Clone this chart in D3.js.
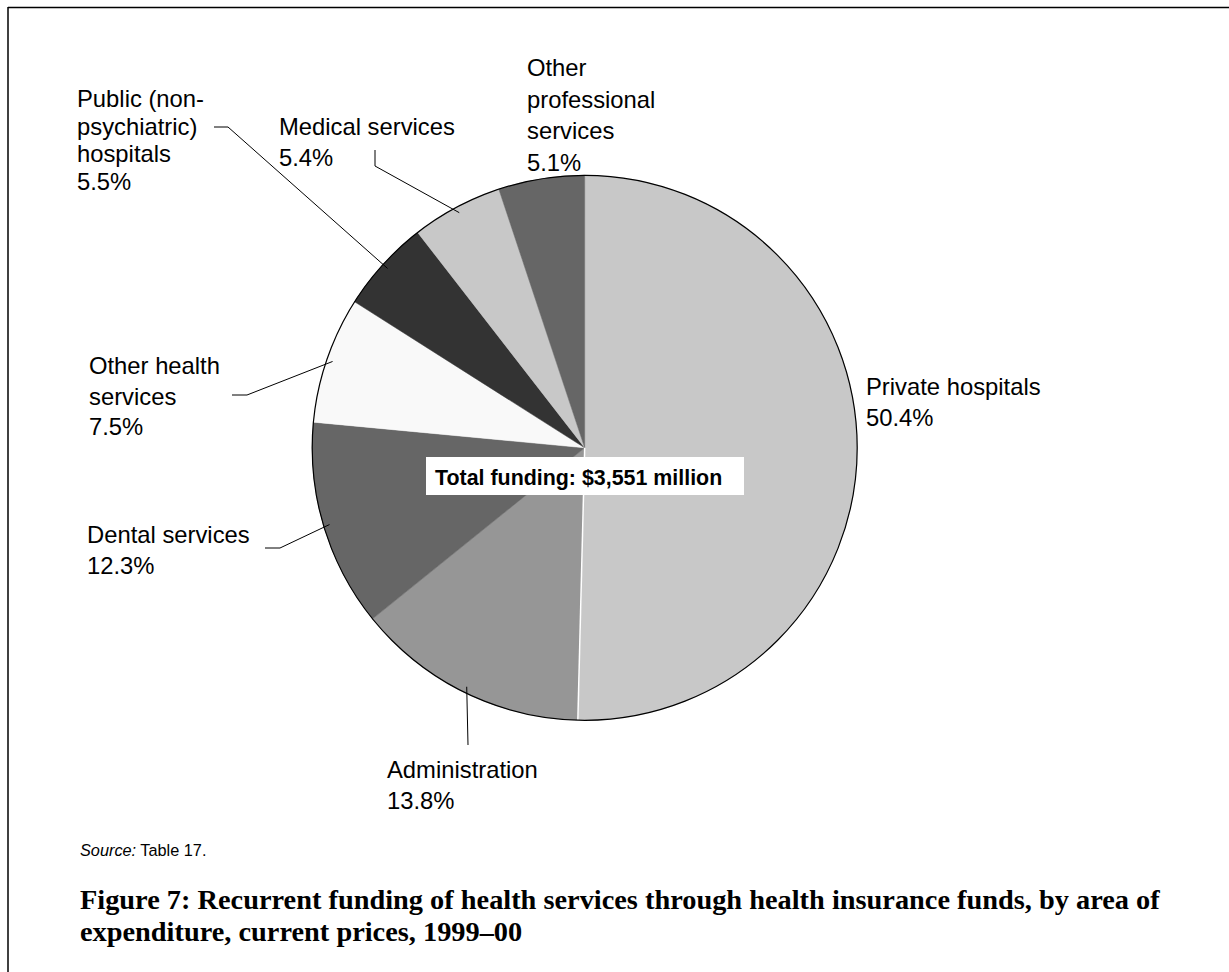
<!DOCTYPE html>
<html><head><meta charset="utf-8">
<script src="https://cdn.jsdelivr.net/npm/d3@7"></script>
<style>body{margin:0;background:#fff}svg{display:block}</style>
</head><body><svg id="c" width="1229" height="972"></svg>
<script>
// ---- data ----
const categories = ["Private hospitals","Administration","Dental services","Other health services","Public (non-psychiatric) hospitals","Medical services","Other professional services"];
const shares = [50.4, 13.8, 12.3, 7.5, 5.5, 5.4, 5.1];
const labelLines = [["Private hospitals"],["Administration"],["Dental services"],["Other health","services"],["Public (non-","psychiatric)","hospitals"],["Medical services"],["Other","professional","services"]];
const totalText = "Total funding: $3,551 million";
const sourceLabel = "Source:";
const sourceText = " Table 17.";
const captionLines = ["Figure 7: Recurrent funding of health services through health insurance funds, by area of","expenditure, current prices, 1999\u201300"];

// ---- layout / style ----
const fills = ["#c8c8c8","#969696","#666666","#f9f9f9","#333333","#c8c8c8","#666666"];
const cx = 584.7, cy = 447.8, R = 272.5;
const labelPos = [{x:866,y:395,h:31},{x:387,y:778,h:31},{x:87,y:543,h:31},{x:89,y:374,h:30.5},{x:77,y:107,h:27.7},{x:279,y:135,h:31},{x:527,y:76,h:31.5}];
const elbows = [null, [[468,745]], [[265,548],[280,548]], [[232,395],[247,395]], [[214,127],[228,127]], [[375,150],[375,166]], null];
const sans = "'Liberation Sans', Arial, sans-serif";

const svg = d3.select("#c");
// frame
svg.append("line").attr("x1",8).attr("y1",7.5).attr("x2",1229).attr("y2",7.5).attr("stroke","#000").attr("stroke-width",1.5);
svg.append("line").attr("x1",8).attr("y1",7).attr("x2",8).attr("y2",972).attr("stroke","#000").attr("stroke-width",1.5);

const pie = d3.pie().sort(null).value(d => d)(shares);
const arc = d3.arc().innerRadius(0).outerRadius(R);
const g = svg.append("g").attr("transform",`translate(${cx},${cy})`);
g.selectAll("path.slice").data(pie).join("path").attr("class","slice")
  .attr("d",arc).attr("fill",(d,i)=>fills[i]).attr("stroke",(d,i)=>fills[i]).attr("stroke-width",0.5);
// white separator between Private hospitals and Administration
const sep = pie[0].endAngle;
g.append("line").attr("x1",0).attr("y1",0).attr("x2",R*Math.sin(sep)).attr("y2",-R*Math.cos(sep))
  .attr("stroke","#fff").attr("stroke-width",1.5);
// outer outline
g.append("path").attr("d",d3.arc().innerRadius(R).outerRadius(R)({startAngle:0,endAngle:2*Math.PI}))
  .attr("fill","none").attr("stroke","#000").attr("stroke-width",1.2);

// leaders
pie.forEach((d,i) => {
  if (!elbows[i]) return;
  const mid = (d.startAngle + d.endAngle)/2;
  const r = R - 6;
  const pts = elbows[i].concat([[cx + r*Math.sin(mid), cy - r*Math.cos(mid)]]);
  svg.append("path").attr("d", d3.line()(pts)).attr("fill","none").attr("stroke","#000").attr("stroke-width",1);
});

// labels
pie.forEach((d,i) => {
  const lines = labelLines[i].concat([d3.format(".1f")(shares[i]) + "%"]);
  const t = svg.append("text").attr("font-family",sans).attr("font-size",23.8).attr("fill","#000");
  lines.forEach((s,k) => t.append("tspan").attr("x",labelPos[i].x).attr("y",labelPos[i].y + k*labelPos[i].h).text(s));
});

// total funding box
svg.append("rect").attr("x",426).attr("y",457).attr("width",318).attr("height",38).attr("fill","#fff");
svg.append("text").attr("x",435).attr("y",485).attr("font-family",sans).attr("font-weight","bold")
  .attr("font-size",21.4).attr("fill","#000").text(totalText);

// source
const st = svg.append("text").attr("x",80).attr("y",856).attr("font-family",sans).attr("font-size",16.3).attr("fill","#000");
st.append("tspan").attr("font-style","italic").text(sourceLabel);
st.append("tspan").text(sourceText);

// caption
const serif = "'Liberation Serif','Times New Roman',serif";
const cap = svg.append("g");
const c1 = cap.append("text").attr("x",80).attr("y",909).attr("font-family",serif)
  .attr("font-weight","bold").attr("font-size",100).text(captionLines[0]);
const w = c1.node().getComputedTextLength();
const fs = 100 * 1080 / w;
c1.attr("font-size",fs);
cap.append("text").attr("x",80).attr("y",941).attr("font-family",serif)
  .attr("font-weight","bold").attr("font-size",fs).text(captionLines[1]);
</script>
</body></html>
